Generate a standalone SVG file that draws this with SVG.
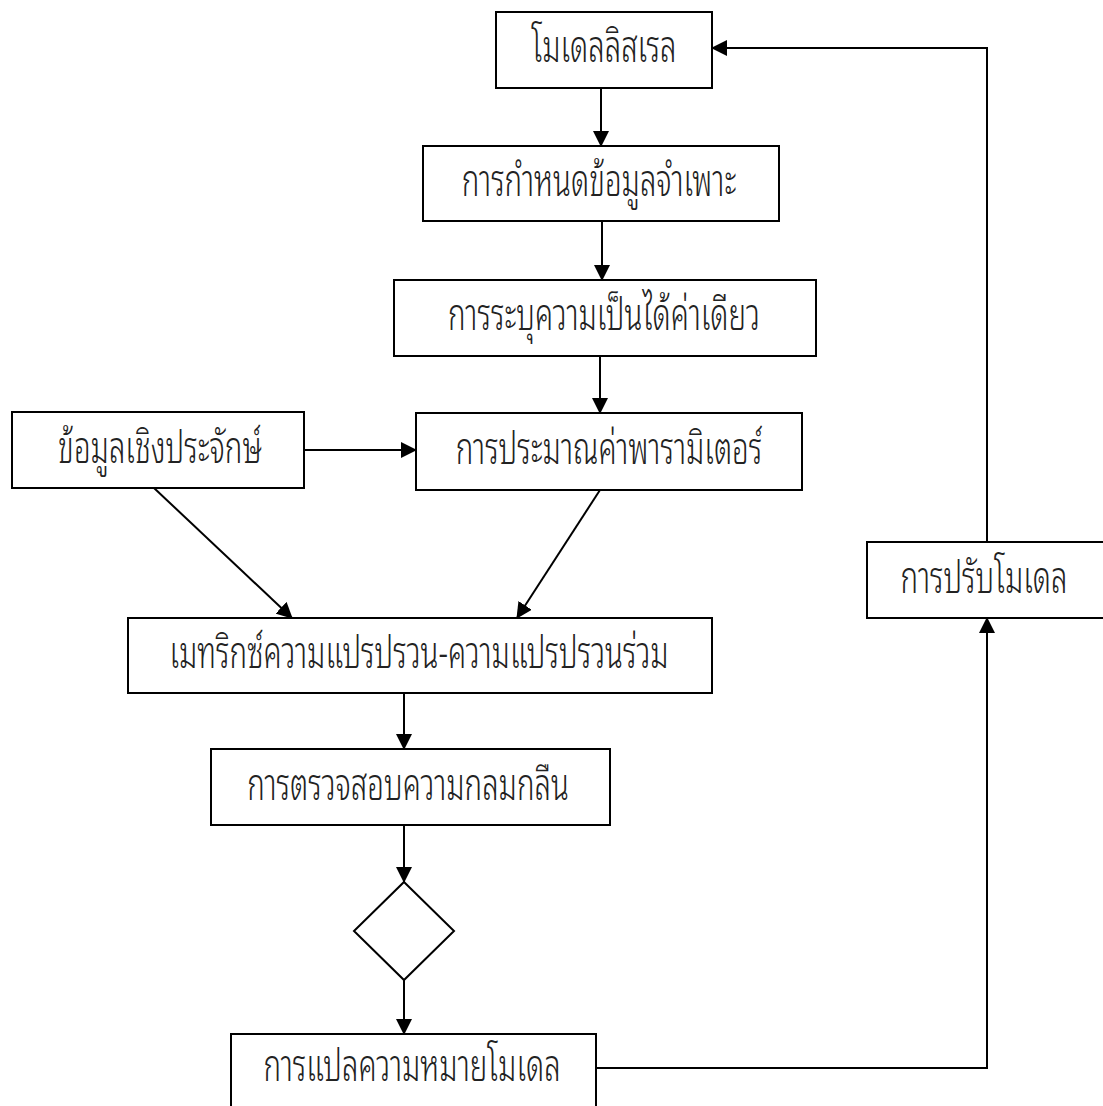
<svg xmlns="http://www.w3.org/2000/svg" width="1103" height="1106" viewBox="0 0 1103 1106">
<style>
.box{fill:#fff;stroke:#000;stroke-width:2}
.lbl{font-family:"Noto Sans Thai Looped","Noto Sans Thai","Noto Sans","DejaVu Sans",sans-serif;font-size:44px;font-weight:300;fill:#222;text-anchor:middle}
.con{fill:none;stroke:#000;stroke-width:2}
</style>
<defs>
<marker id="ah" markerWidth="16" markerHeight="16" refX="15" refY="8" orient="auto" markerUnits="userSpaceOnUse">
<path d="M0,0 L16,8 L0,16 Z" fill="#000"/>
</marker>
</defs>
<rect width="1103" height="1106" fill="#fff"/>
<g id="connectors">
<line class="con" x1="601" y1="88" x2="601" y2="146" marker-end="url(#ah)"/>
<line class="con" x1="602" y1="221" x2="602" y2="280" marker-end="url(#ah)"/>
<line class="con" x1="600" y1="356" x2="600" y2="413" marker-end="url(#ah)"/>
<line class="con" x1="304" y1="450" x2="416" y2="450" marker-end="url(#ah)"/>
<line class="con" x1="154" y1="488" x2="292" y2="618" marker-end="url(#ah)"/>
<line class="con" x1="600" y1="490" x2="517" y2="618" marker-end="url(#ah)"/>
<line class="con" x1="404" y1="693" x2="404" y2="749" marker-end="url(#ah)"/>
<line class="con" x1="404" y1="825" x2="404" y2="882" marker-end="url(#ah)"/>
<line class="con" x1="404" y1="980" x2="404" y2="1034" marker-end="url(#ah)"/>
<polyline class="con" points="596,1068 987,1068 987,618" marker-end="url(#ah)"/>
<polyline class="con" points="987,542 987,48 712,48" marker-end="url(#ah)"/>
</g>
<g id="n1"><rect class="box" x="496" y="12" width="216" height="76"/><text class="lbl" transform="translate(604,62) scale(0.67,1)">โมเดลลิสเรล</text></g>
<g id="n2"><rect class="box" x="423" y="146" width="356" height="75"/><text class="lbl" transform="translate(599,196) scale(0.67,1)">การกำหนดข้อมูลจำเพาะ</text></g>
<g id="n3"><rect class="box" x="394" y="280" width="422" height="76"/><text class="lbl" transform="translate(604,330) scale(0.67,1)">การระบุความเป็นได้ค่าเดียว</text></g>
<g id="n4"><rect class="box" x="12" y="412" width="292" height="76"/><text class="lbl" transform="translate(160,463) scale(0.67,1)">ข้อมูลเชิงประจักษ์</text></g>
<g id="n5"><rect class="box" x="416" y="413" width="386" height="77"/><text class="lbl" transform="translate(609,464) scale(0.67,1)">การประมาณค่าพารามิเตอร์</text></g>
<g id="n6"><rect class="box" x="128" y="618" width="584" height="75"/><text class="lbl" transform="translate(419,668) scale(0.67,1)">เมทริกซ์ความแปรปรวน-ความแปรปรวนร่วม</text></g>
<g id="n7"><rect class="box" x="211" y="749" width="399" height="76"/><text class="lbl" transform="translate(408,800) scale(0.67,1)">การตรวจสอบความกลมกลืน</text></g>
<g id="n8"><polygon class="box" points="404,882 454,931 404,980 354,931"/></g>
<g id="n9"><rect class="box" x="231" y="1034" width="365" height="80"/><text class="lbl" transform="translate(412,1081) scale(0.67,1)">การแปลความหมายโมเดล</text></g>
<g id="n10"><rect class="box" x="867" y="542" width="250" height="76"/><text class="lbl" transform="translate(984,593) scale(0.67,1)">การปรับโมเดล</text></g>
</svg>
